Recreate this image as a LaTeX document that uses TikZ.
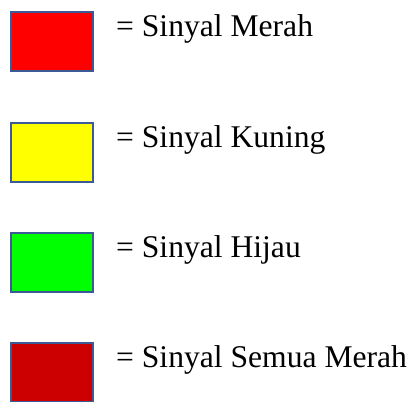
\documentclass[tikz,border=0pt]{standalone}
\usepackage{fontspec}
\setmainfont{Liberation Serif}
\definecolor{boxline}{RGB}{60,90,150}
\definecolor{sigred}{RGB}{255,0,0}
\definecolor{sigyellow}{RGB}{255,255,0}
\definecolor{siggreen}{RGB}{0,255,0}
\definecolor{sigallred}{RGB}{204,0,0}
\begin{document}
\begin{tikzpicture}[x=1pt,y=-1pt,
  swatch/.style={draw=boxline,line width=2pt,minimum width=82pt,minimum height=59pt,inner sep=0pt,anchor=center},
  lbl/.style={anchor=base west,inner sep=0pt,font=\fontsize{31.6}{38}\selectfont}]
\useasboundingbox (0,0) rectangle (411,401);
\node[swatch,fill=sigred] (b1) at (52,41.5) {};
\node[swatch,fill=sigyellow] (b2) at (52,152.5) {};
\node[swatch,fill=siggreen] (b3) at (52,262.5) {};
\node[swatch,fill=sigallred] (b4) at (52,372.5) {};
\node[lbl] (t1) at (116,37) {= Sinyal Merah};
\node[lbl] (t2) at (116,147.5) {= Sinyal Kuning};
\node[lbl] (t3) at (116,257.5) {= Sinyal Hijau};
\node[lbl] (t4) at (116,367.5) {= Sinyal Semua Merah};
\end{tikzpicture}
\end{document}
